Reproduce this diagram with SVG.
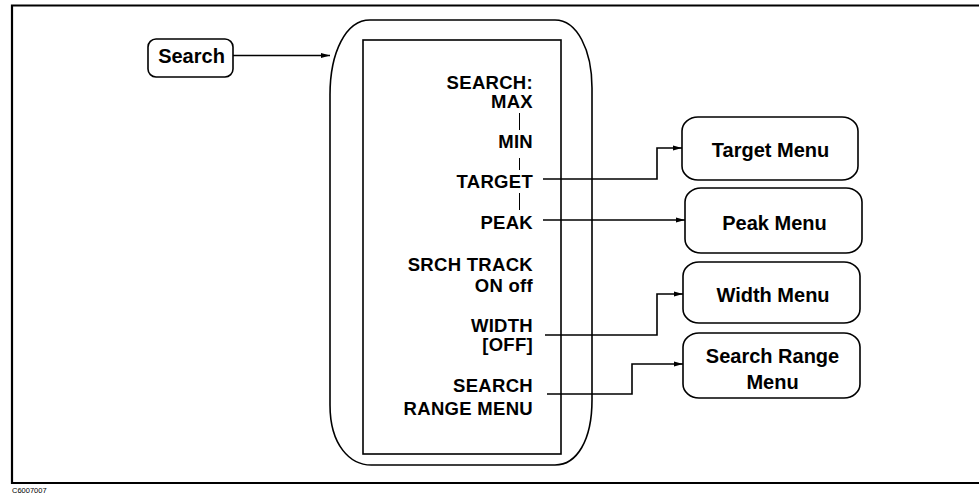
<svg xmlns="http://www.w3.org/2000/svg" width="979" height="495" viewBox="0 0 979 495">
<style>
.ln{fill:none;stroke:#000;stroke-width:1.6}
.box{fill:#fff;stroke:#000;stroke-width:1.6}
.t{font-family:"Liberation Sans",Arial,sans-serif;font-weight:bold;fill:#000}
.m{font-size:18.5px;letter-spacing:0.3px;text-anchor:end}
.b{font-size:20px;text-anchor:middle}
.thin{fill:none;stroke:#000;stroke-width:1}
</style>
<defs>
<marker id="ah" markerWidth="10" markerHeight="8" refX="9" refY="4" orient="auto" markerUnits="userSpaceOnUse">
<path d="M0,1.5 L9,4 L0,6.5 Z" fill="#000"/>
</marker>
</defs>
<rect width="979" height="495" fill="#fff"/>
<g id="frame">
<path d="M979 5.5 H12 V483 H979" fill="none" stroke="#000" stroke-width="2.2"/>
<text x="12" y="493" style="font-family:'Liberation Sans',Arial,sans-serif;font-size:7.5px" fill="#000">C6007007</text>
</g>
<g id="search">
<rect class="box" x="148" y="39" width="85" height="38" rx="8"/>
<text class="t b" x="191.5" y="63">Search</text>
</g>
<g id="softkey-menu">
<path class="ln" d="M370 20 H555 C577 20 592 50 592 88 V400 C592 440 577 465 555 465 H373 C350 466 330 445 330 405 V95 C330 52 346 20 370 20 Z"/>
<rect class="ln" x="363" y="40" width="198" height="414"/>
<text class="t m" x="533" y="89">SEARCH:</text>
<text class="t m" x="533" y="108">MAX</text>
<text class="t m" x="533" y="148">MIN</text>
<text class="t m" x="533" y="188">TARGET</text>
<text class="t m" x="533" y="229">PEAK</text>
<text class="t m" x="533" y="271">SRCH TRACK</text>
<text class="t m" x="533" y="292">ON off</text>
<text class="t m" x="533" y="332">WIDTH</text>
<text class="t m" x="533" y="351">[OFF]</text>
<text class="t m" x="533" y="392">SEARCH</text>
<text class="t m" x="533" y="415">RANGE MENU</text>
<path class="thin" d="M519.5 113 V130 M519.5 158 V170 M519.5 193 V210"/>
</g>
<g id="target-menu">
<rect class="box" x="682" y="117" width="176" height="63" rx="16" ry="14"/>
<text class="t b" x="770.5" y="157">Target Menu</text>
</g>
<g id="peak-menu">
<rect class="box" x="685" y="188" width="177" height="65" rx="16" ry="14"/>
<text class="t b" x="774.5" y="230">Peak Menu</text>
</g>
<g id="width-menu">
<rect class="box" x="683" y="262" width="177" height="61" rx="16" ry="14"/>
<text class="t b" x="773" y="302">Width Menu</text>
</g>
<g id="search-range-menu">
<rect class="box" x="683" y="333" width="177" height="65" rx="16" ry="14"/>
<text class="t b" x="772.5" y="363">Search Range</text>
<text class="t b" x="772.5" y="389">Menu</text>
</g>
<g id="connectors">
<path class="ln" d="M233 55.5 H330" marker-end="url(#ah)"/>
<path class="ln" d="M543 179 H657 V148 H682" marker-end="url(#ah)"/>
<path class="ln" d="M543 220 H685" marker-end="url(#ah)"/>
<path class="ln" d="M545 335 H657 V294 H683" marker-end="url(#ah)"/>
<path class="ln" d="M547 394 H632 V364 H683" marker-end="url(#ah)"/>
</g>
</svg>
